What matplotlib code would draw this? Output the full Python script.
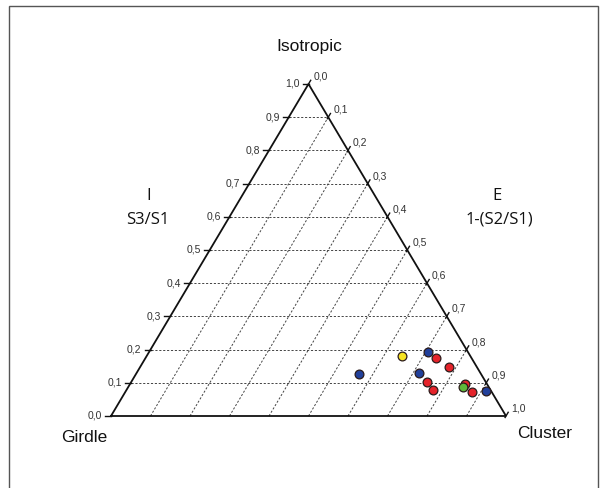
import matplotlib.pyplot as plt
from matplotlib.patches import Rectangle

# ternary axes values
isotropic_ticks = [0.0, 0.1, 0.2, 0.3, 0.4, 0.5, 0.6, 0.7, 0.8, 0.9, 1.0]
cluster_ticks = [0.0, 0.1, 0.2, 0.3, 0.4, 0.5, 0.6, 0.7, 0.8, 0.9, 1.0]

# sample points: E = 1-(S2/S1) (cluster), I = S3/S1 (isotropic)
pt_cluster = [0.565, 0.645, 0.707, 0.736, 0.782, 0.714, 0.749, 0.777, 0.848, 0.849, 0.878, 0.911]
pt_isotropic = [0.127, 0.182, 0.192, 0.174, 0.147, 0.129, 0.103, 0.077, 0.096, 0.086, 0.073, 0.075]
pt_group = ["blue", "yellow", "blue", "red", "red", "blue", "red", "red", "red", "green", "red", "blue"]

group_colors = {"blue": "#22409a", "red": "#e4232a", "yellow": "#f6e320", "green": "#5cb83a"}

W, H = 615, 488
# pixel frame of the triangle (Girdle at x0,y0 ; one unit = sx, sy px)
x0, y0, sx, sy = 111, 416, 395, 332


def to_xy(c, i):
    return c + 0.5 * i, i


def px(x, y):
    # pixel offsets -> data units
    return x / sx, -y / sy


fig = plt.figure(figsize=(W / 100, H / 100), dpi=100)
ax = fig.add_axes([0, 0, 1, 1])
ax.set_xlim(-x0 / sx, (W - x0) / sx)
ax.set_ylim(-(H - y0) / sy, y0 / sy)
ax.axis("off")

# frame around the figure
fig.patches.append(Rectangle((9 / W, -0.02), (598 - 9) / W, (H - 6) / H + 0.02,
                             transform=fig.transFigure, fill=False,
                             edgecolor="#555555", lw=1.0))

grid_kw = dict(color="#444444", lw=0.7, dashes=(2.2, 1.8))
# horizontal lines (constant I)
for i in isotropic_ticks[1:-1]:
    xa, ya = to_xy(0, i)
    xb, yb = to_xy(1 - i, i)
    ax.plot([xa, xb], [ya, yb], **grid_kw)
# lines of constant E
for c in cluster_ticks[1:-1]:
    xa, ya = to_xy(c, 0)
    xb, yb = to_xy(c, 1 - c)
    ax.plot([xa, xb], [ya, yb], **grid_kw)

# triangle
tri = [to_xy(0, 0), to_xy(1, 0), to_xy(0, 1), to_xy(0, 0)]
ax.plot([p[0] for p in tri], [p[1] for p in tri], color="#111111", lw=1.3,
        solid_joinstyle="miter")

tick_font = dict(family="Liberation Sans", fontsize=7.5, color="#333333")
# left ticks
for i in isotropic_ticks:
    x, y = to_xy(0, i)
    dx, _ = px(6, 0)
    ax.plot([x - dx, x], [y, y], color="#111111", lw=1.0)
    lx, _ = px(9, 0)
    ax.text(x - lx, y, f"{i:.1f}".replace(".", ","), ha="right", va="center", **tick_font)
# right ticks
for c in cluster_ticks:
    x, y = to_xy(c, 1 - c)
    tx, ty = px(2.2, -3.7)
    ax.plot([x - tx * 0.4, x + tx], [y - ty * 0.4, y + ty], color="#111111", lw=1.0)
    ox, oy = px(5, -7.5)
    ax.text(x + ox, y + oy, f"{c:.1f}".replace(".", ","), ha="left", va="center", **tick_font)

# points
for c, i, g in zip(pt_cluster, pt_isotropic, pt_group):
    x, y = to_xy(c, i)
    ax.scatter(x, y, s=40, color=group_colors[g], edgecolors="#2a1a1a", linewidths=0.9, zorder=5)

# labels
def put(xp, yp, s, **kw):
    ax.text((xp - x0) / sx, (y0 - yp) / sy, s, ha="center", va="center", **kw)

corner_font = dict(family="Liberation Sans", fontsize=12.5, color="#111111")
put(309, 47, "Isotropic", **corner_font)
put(84, 437, "Girdle", **corner_font)
put(545, 434, "Cluster", **corner_font)

side_font = dict(family="Open Sans", fontsize=12, color="#111111")
put(149, 196, "I", **side_font)
put(148, 220, "S3/S1", **side_font)
put(497, 196, "E", **side_font)
put(499, 220, "1-(S2/S1)", **side_font)

fig.savefig("out.png", dpi=100)
